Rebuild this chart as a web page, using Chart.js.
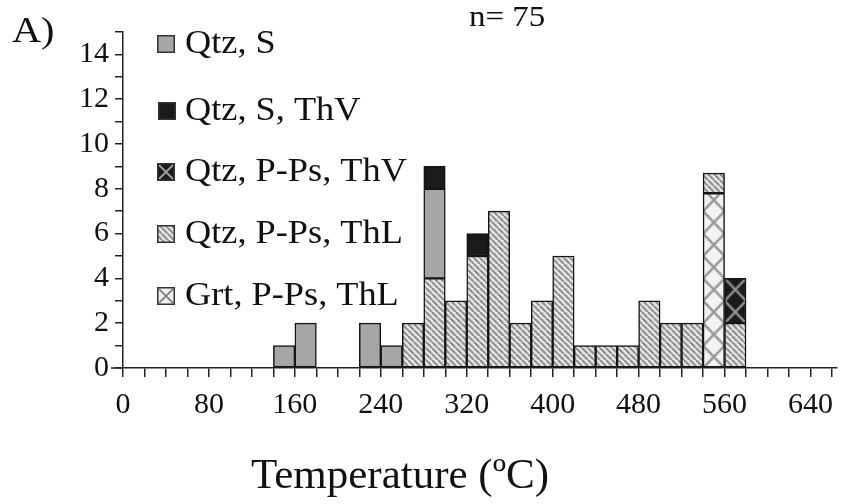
<!DOCTYPE html>
<html>
<head>
<meta charset="utf-8">
<script src="https://cdn.jsdelivr.net/npm/chart.js@4.4.1/dist/chart.umd.min.js"></script>
<style>
  html, body { margin: 0; padding: 0; background: #fff; }
  #wrap { width: 842px; height: 504px; }
</style>
</head>
<body>
<div id="wrap"><canvas id="histChart" width="842" height="504"></canvas></div>
<script>
// 20 degree bins, start of each bin
var binStart = [0, 20, 40, 60, 80, 100, 120, 140, 160, 180, 200, 220, 240, 260, 280,
                300, 320, 340, 360, 380, 400, 420, 440, 460, 480, 500, 520, 540, 560];
var binWidth = 20;

// counts per bin (null = empty)
var qtzS      = [null, null, null, null, null, null, null, 1, 2, null, null, 2, 1, null, 4,
                 null, null, null, null, null, null, null, null, null, null, null, null, null, null];
var qtzSThV   = [null, null, null, null, null, null, null, null, null, null, null, null, null, null, 1,
                 null, 1, null, null, null, null, null, null, null, null, null, null, null, null];
var qtzPPsThV = [null, null, null, null, null, null, null, null, null, null, null, null, null, null, null,
                 null, null, null, null, null, null, null, null, null, null, null, null, null, 2];
var qtzPPsThL = [null, null, null, null, null, null, null, null, null, null, null, null, null, 2, 4,
                 3, 5, 7, 2, 3, 5, 1, 1, 1, 3, 2, 2, 0.9, 2];
var grtPPsThL = [null, null, null, null, null, null, null, null, null, null, null, null, null, null, null,
                 null, null, null, null, null, null, null, null, null, null, null, null, 7.8, null];

var xLabelEvery = 80;
var yLabelEvery = 2;
var sampleText = 'n= 75';
var panelText = 'A)';
var xTitle = 'Temperature (\u00BAC)';

var serif = "'Liberation Serif', 'Times New Roman', serif";
var grey = '#a6a6a9';
var black = '#1a1a1a';
var ink = '#111';

function stripePattern() {
    var c = document.createElement('canvas');
    c.width = 6; c.height = 6;
    var g = c.getContext('2d');
    g.fillStyle = '#e8e8e8';
    g.fillRect(0, 0, 6, 6);
    g.strokeStyle = '#929292';
    g.lineWidth = 2.2;
    for (var k = -1; k <= 1; k++) {
        g.beginPath();
        g.moveTo(k * 6, 0);
        g.lineTo(k * 6 + 6, 6);
        g.stroke();
    }
    return g.createPattern(c, 'repeat');
}

function crossPattern(bg, fg) {
    var c = document.createElement('canvas');
    c.width = 22; c.height = 22;
    var g = c.getContext('2d');
    g.fillStyle = bg;
    g.fillRect(0, 0, 22, 22);
    g.strokeStyle = fg;
    g.lineWidth = 2.6;
    g.beginPath();
    g.moveTo(0, 0); g.lineTo(22, 22);
    g.moveTo(22, 0); g.lineTo(0, 22);
    g.stroke();
    return g.createPattern(c, 'repeat');
}

var stripes = stripePattern();
var grtCross = crossPattern('#f3f3f3', '#9a9a9a');
var darkCross = crossPattern('#1a1a1a', '#8c8c8c');

var binMid = binStart.map(function (v) { return v + binWidth / 2; });

// stack order bottom -> top
var histData = {
    labels: binMid,
    datasets: [
        { label: 'Grt, P-Ps, ThL', data: grtPPsThL, backgroundColor: grtCross, box: 'grtx' },
        { label: 'Qtz, P-Ps, ThL', data: qtzPPsThL, backgroundColor: stripes, box: 'stripe' },
        { label: 'Qtz, S', data: qtzS, backgroundColor: grey, box: 'grey' },
        { label: 'Qtz, S, ThV', data: qtzSThV, backgroundColor: black, box: 'black' },
        { label: 'Qtz, P-Ps, ThV', data: qtzPPsThV, backgroundColor: darkCross, box: 'darkx' }
    ]
};
histData.datasets.forEach(function (ds) {
    ds.borderColor = '#151515';
    ds.borderWidth = 1.5;
    ds.borderSkipped = false;
    ds.barPercentage = 1;
    ds.categoryPercentage = 1;
});

// legend rows top -> bottom (dataset index)
var legendOrder = [2, 3, 4, 1, 0];

function drawBox(ctx, type, x, y, s) {
    ctx.save();
    if (type === 'grey') ctx.fillStyle = grey;
    else if (type === 'black') ctx.fillStyle = black;
    else if (type === 'stripe') ctx.fillStyle = stripes;
    else if (type === 'darkx') ctx.fillStyle = black;
    else ctx.fillStyle = '#f0f0f0';
    ctx.fillRect(x, y, s, s);
    if (type === 'darkx' || type === 'grtx') {
        ctx.strokeStyle = type === 'darkx' ? '#9a9a9a' : '#8a8a8a';
        ctx.lineWidth = 2;
        ctx.beginPath();
        ctx.moveTo(x + 2, y + 2); ctx.lineTo(x + s - 2, y + s - 2);
        ctx.moveTo(x + s - 2, y + 2); ctx.lineTo(x + 2, y + s - 2);
        ctx.stroke();
    }
    ctx.strokeStyle = '#333';
    ctx.lineWidth = 1.5;
    ctx.strokeRect(x + 0.75, y + 0.75, s - 1.5, s - 1.5);
    ctx.restore();
}

function stretchedText(ctx, text, x, y, sx) {
    ctx.save();
    ctx.translate(x, y);
    ctx.scale(sx, 1);
    ctx.fillText(text, 0, 0);
    ctx.restore();
}

var extras = {
    id: 'extras',
    beforeDatasetsDraw: function (chart) {
        var xs = chart.scales.x, ys = chart.scales.y;
        var w = xs.getPixelForValue(binWidth) - xs.getPixelForValue(0);
        var h = ys.getPixelForValue(0) - ys.getPixelForValue(1);
        var m = new DOMMatrix().translate(xs.getPixelForValue(0), ys.getPixelForValue(0)).scale(w / 22, h / 22);
        grtCross.setTransform(m);
        darkCross.setTransform(m);
    },
    afterDraw: function (chart) {
        var ctx = chart.ctx;
        var area = chart.chartArea;
        ctx.save();
        // x axis runs a little past the y axis
        ctx.strokeStyle = '#222';
        ctx.lineWidth = 1.5;
        ctx.beginPath();
        ctx.moveTo(area.left - 12, area.bottom);
        ctx.lineTo(area.left, area.bottom);
        ctx.stroke();

        ctx.fillStyle = ink;
        ctx.textBaseline = 'alphabetic';
        ctx.font = '36px ' + serif;
        stretchedText(ctx, panelText, 12, 42, 1.12);
        ctx.font = '30px ' + serif;
        stretchedText(ctx, sampleText, 469, 26, 1.1);
        ctx.font = '43px ' + serif;
        ctx.textAlign = 'center';
        ctx.fillText(xTitle, 400, 488);

        // legend
        var rowY = [35, 102, 163, 225, 287];
        ctx.textAlign = 'left';
        ctx.font = '33px ' + serif;
        legendOrder.forEach(function (di, r) {
            var ds = chart.data.datasets[di];
            drawBox(ctx, ds.box, r === 1 ? 158 : 157, rowY[r], 18);
            stretchedText(ctx, ds.label, 185, rowY[r] + 18, 1.1);
        });
        ctx.restore();
    }
};

var histOptions = {
    responsive: false,
    animation: false,
    layout: { padding: { top: 32, right: 4, left: 0, bottom: 0 } },
    plugins: { legend: { display: false }, tooltip: { enabled: false } },
    scales: {
        x: {
            type: 'linear',
            stacked: true,
            offset: false,
            min: 0,
            max: 664,
            afterFit: function (scale) { scale.height = 136; },
            grid: { offset: false, drawOnChartArea: false, drawTicks: true, tickLength: 9, color: '#222', lineWidth: 1.5 },
            border: { display: true, color: '#222', width: 1.5 },
            ticks: {
                stepSize: 20,
                autoSkip: false,
                includeBounds: false,
                maxRotation: 0,
                padding: 10,
                color: ink,
                font: { family: serif, size: 30 },
                callback: function (v) { return v % xLabelEvery === 0 ? v : ''; }
            }
        },
        y: {
            stacked: true,
            min: 0,
            max: 15,
            afterFit: function (scale) { scale.width = 123; },
            grid: { drawOnChartArea: false, drawTicks: true, tickLength: 8, color: '#222', lineWidth: 1.5 },
            border: { display: true, color: '#222', width: 1.5 },
            ticks: {
                stepSize: 1,
                autoSkip: false,
                padding: 6,
                color: ink,
                font: { family: serif, size: 30 },
                callback: function (v) { return v % yLabelEvery === 0 ? v : ''; }
            }
        }
    }
};

var ctx = document.getElementById('histChart').getContext('2d');
new Chart(ctx, { type: 'bar', data: histData, options: histOptions, plugins: [extras] });
</script>
</body>
</html>
